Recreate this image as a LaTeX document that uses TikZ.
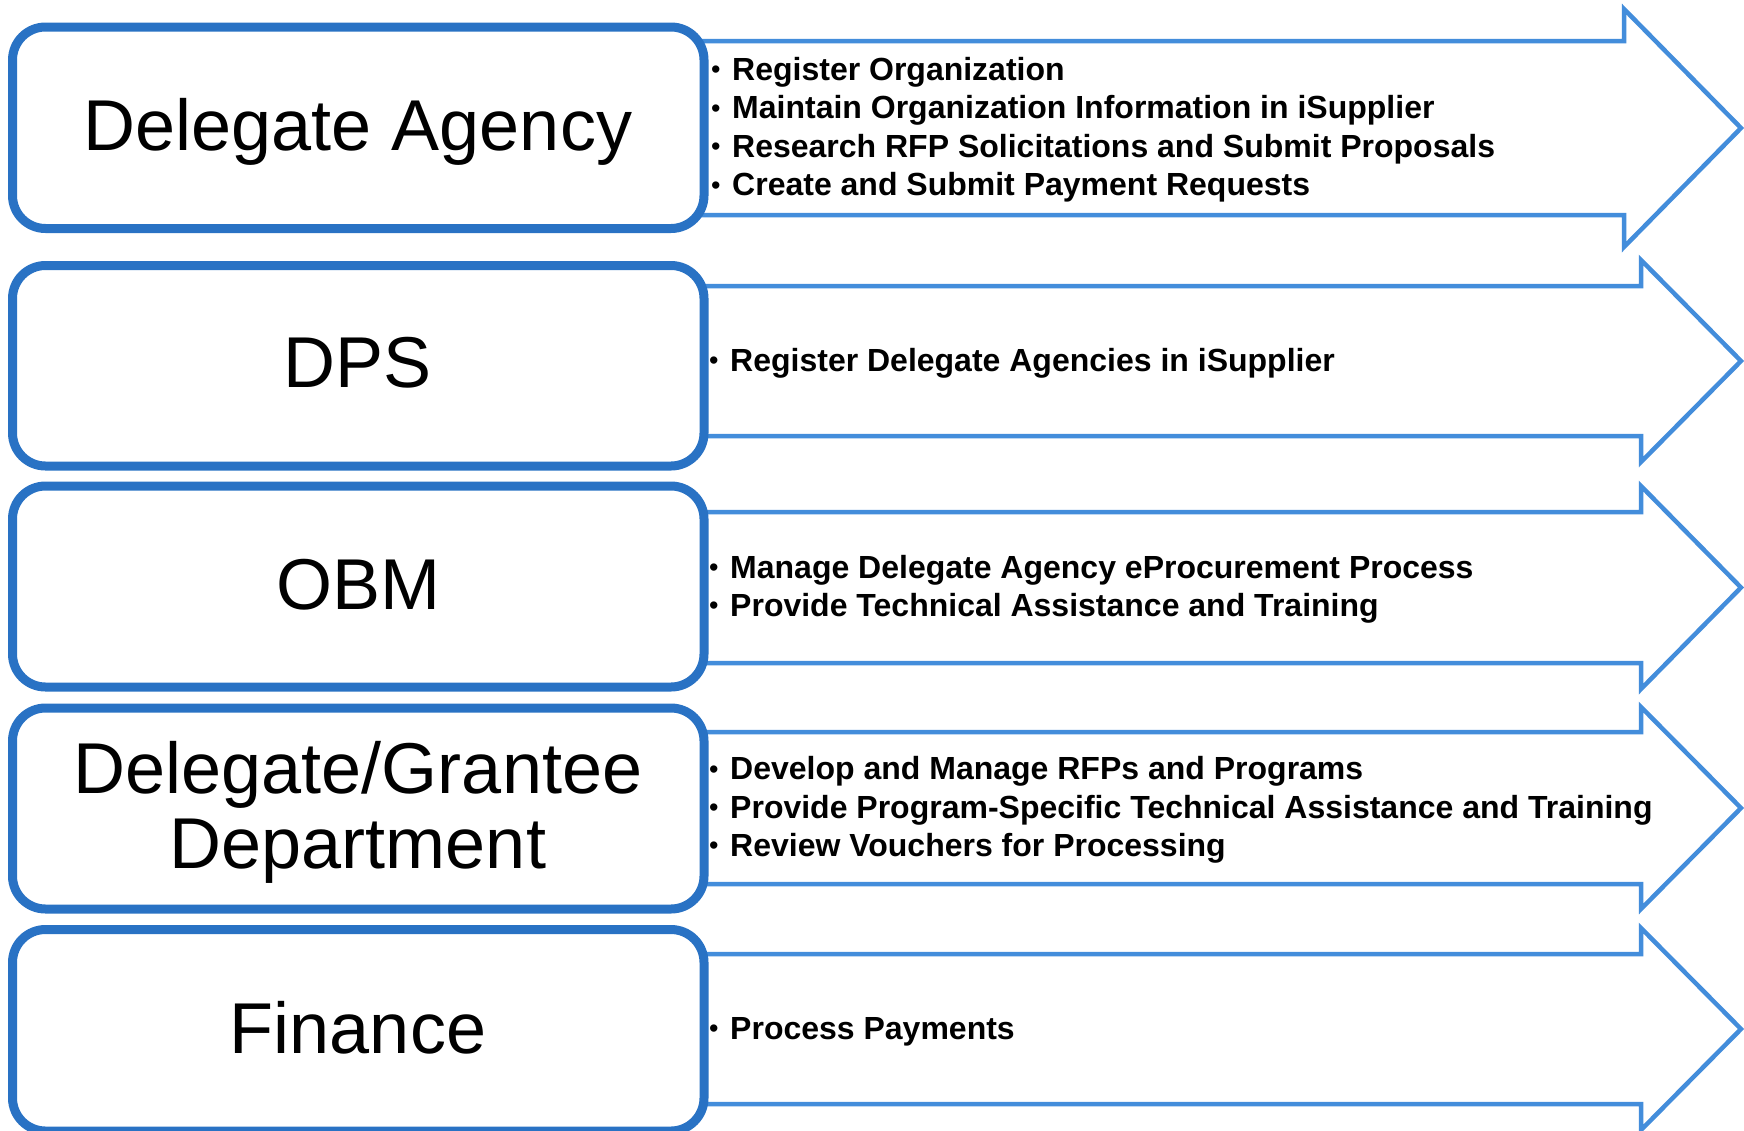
\documentclass[tikz,border=0pt]{standalone}
\usepackage{fontspec}
\setmainfont{Liberation Sans}
\definecolor{boxblue}{RGB}{41,114,196}
\definecolor{arrowblue}{RGB}{67,141,219}
\begin{document}
\begin{tikzpicture}[x=1pt,y=-1pt,
  arrowshape/.style={draw=arrowblue, line width=4.5pt, fill=white, line join=miter},
  rolebox/.style={draw=boxblue, line width=9pt, fill=white, rounded corners=33pt},
  rolelabel/.style={anchor=base, inner sep=0pt, font=\fontsize{72}{75}\selectfont},
  bulletline/.style={anchor=base west, inner sep=0pt, font=\fontsize{32}{38.4}\selectfont\bfseries}]
\useasboundingbox (0,0) rectangle (1744,1130);
\fill[white] (0,0) rectangle (1744,1130);
% arrows
\draw[arrowshape] (690,41) -- (1624,41) -- (1624,9) -- (1741,128) -- (1624,247) -- (1624,215) -- (690,215) -- cycle;
\draw[arrowshape] (690,286) -- (1641,286) -- (1641,260) -- (1741,361) -- (1641,462) -- (1641,436) -- (690,436) -- cycle;
\draw[arrowshape] (690,512) -- (1641,512) -- (1641,486) -- (1741,587.5) -- (1641,689) -- (1641,663) -- (690,663) -- cycle;
\draw[arrowshape] (690,732) -- (1641,732) -- (1641,707) -- (1741,808) -- (1641,909) -- (1641,884) -- (690,884) -- cycle;
\draw[arrowshape] (690,954) -- (1641,954) -- (1641,928) -- (1741,1029) -- (1641,1130) -- (1641,1104) -- (690,1104) -- cycle;
% role boxes
\draw[rolebox] (12.5,27) rectangle (704,228.5);
\draw[rolebox] (12.5,265.5) rectangle (704,466);
\draw[rolebox] (12.5,486) rectangle (704,687);
\draw[rolebox] (12.5,708) rectangle (704,909);
\draw[rolebox] (12.5,929.5) rectangle (704,1131);
% role labels
\node[rolelabel] (l1) at (358,150) {Delegate Agency};
\node[rolelabel] (l2) at (358,387) {DPS};
\node[rolelabel] (l3) at (358,609) {OBM};
\node[rolelabel] (l4a) at (358,793) {Delegate/Grantee};
\node[rolelabel] (l4b) at (358,868) {Department};
\node[rolelabel] (l5) at (358,1053) {Finance};
% bullet lines
\newcommand{\blt}{\makebox[21pt][l]{\raisebox{1.5pt}{\fontsize{27}{27}\selectfont\mdseries •}}}
\node[bulletline] (t11) at (711,80.4) {\blt Register Organization};
\node[bulletline] (t12) at (711,118.8) {\blt Maintain Organization Information in iSupplier};
\node[bulletline] (t13) at (711,157.2) {\blt Research RFP Solicitations and Submit Proposals};
\node[bulletline] (t14) at (711,195.6) {\blt Create and Submit Payment Requests};
\node[bulletline] (t21) at (709,371) {\blt Register Delegate Agencies in iSupplier};
\node[bulletline] (t31) at (709,578) {\blt Manage Delegate Agency eProcurement Process};
\node[bulletline] (t32) at (709,616.4) {\blt Provide Technical Assistance and Training};
\node[bulletline] (t41) at (709,779.6) {\blt Develop and Manage RFPs and Programs};
\node[bulletline] (t42) at (709,818) {\blt Provide Program-Specific Technical Assistance and Training};
\node[bulletline] (t43) at (709,856.4) {\blt Review Vouchers for Processing};
\node[bulletline] (t51) at (709,1039) {\blt Process Payments};
\end{tikzpicture}
\end{document}
